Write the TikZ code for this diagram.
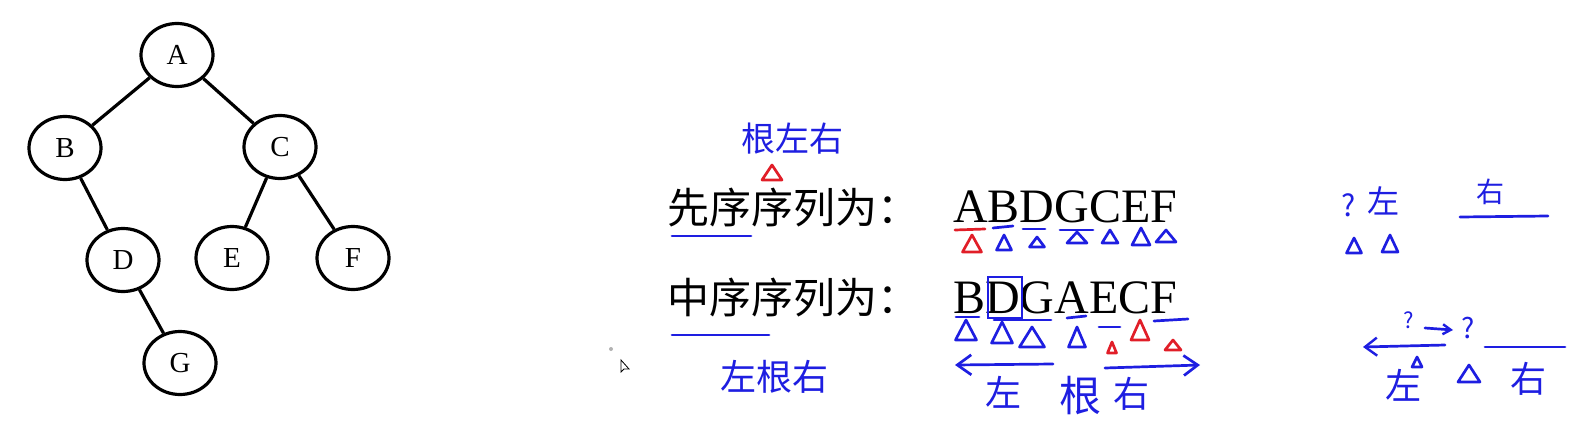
\documentclass[tikz,border=0pt]{standalone}
\usepackage{fontspec}
\setmainfont{Liberation Serif}
\newfontfamily\cjk{Noto Sans CJK SC}
\usepackage{tikz}
\usetikzlibrary{shapes.geometric,arrows.meta}
\definecolor{penblue}{RGB}{30,30,225}
\definecolor{penred}{RGB}{225,30,40}
\newcommand{\fs}[1]{\fontsize{#1}{#1}\selectfont}

\begin{document}
\begin{tikzpicture}[x=1pt, y=-1pt,
    treenode/.style={ellipse, draw, line width=3.2pt, minimum width=72pt,
        minimum height=63pt, inner sep=0pt, font=\fs{29}},
    treeedge/.style={line width=3.2pt},
    seqlabel/.style={anchor=base west, inner sep=0pt, font=\cjk\fs{42}},
    seqletters/.style={anchor=base west, inner sep=0pt, font=\fs{48}},
    hand/.style={inner sep=0pt, text=penblue, font=\cjk\fs{#1}},
    bluepen/.style={penblue, line width=2.7pt, line cap=round, line join=round},
    redpen/.style={penred, line width=2.7pt, line cap=round, line join=round},
    handarrow/.style={bluepen, -{Straight Barb[length=14pt, width=20pt, line width=2.7pt]}}
]
    \useasboundingbox (0,0) rectangle (1588,423);

    % the tree
    \node[treenode] (A) at (177,55) {A};
    \node[treenode] (B) at (65,148) {B};
    \node[treenode] (C) at (280,147) {C};
    \node[treenode] (D) at (123,260) {D};
    \node[treenode] (E) at (232,258) {E};
    \node[treenode] (F) at (353,258) {F};
    \node[treenode] (G) at (180,363) {G};
    \draw[treeedge] (A) -- (B);
    \draw[treeedge] (A) -- (C);
    \draw[treeedge] (B) -- (D);
    \draw[treeedge] (C) -- (E);
    \draw[treeedge] (C) -- (F);
    \draw[treeedge] (D) -- (G);

    % the two sequences
    \node[seqlabel] (pre) at (667,223) {先序序列为：};
    \node[seqletters] (preseq) at (953,222) {ABDGCEF};
    \node[seqlabel] (mid) at (667,313) {中序序列为：};
    \node[seqletters] (midseq) at (953,313) {BDGAECF};

    % handwritten notes
    \node[hand=34] (prerule) at (792,139) {根左右};
    \node[hand=36] (midrule) at (774,377) {左根右};
    \node[hand=36] (lsub) at (1003,392) {左};
    \node[hand=42] (root) at (1080,396) {根};
    \node[hand=36] (rsub) at (1131,394) {右};

    \draw[bluepen] (672,236) -- (751,236);
    \draw[bluepen] (672,335) -- (769,335);
    \draw[penblue, line width=1.3pt] (988,277) rectangle (1022,318);

    % marks under the letters
    \draw[redpen] (955,230) -- (985,229);
    \draw[bluepen] (993,228) -- (1013,226);
    \draw[bluepen] (1023,229) -- (1045,229);
    \draw[bluepen] (1060,230) -- (1093,230);
    \draw[bluepen] (956,317) -- (979,317);
    \draw[bluepen] (994,320) -- (1051,320);
    \draw[bluepen] (1067,318) -- (1086,316);
    \draw[bluepen] (1099,327) -- (1120,327);
    \draw[bluepen] (1154,321) -- (1188,319);

    \foreach \x/\y/\w/\h in {772/180/20/15, 972/252/19/17, 1112/353/9/11,
        1140/340/18/20, 1173/350/16/10}
        \draw[redpen] ({\x-\w/2},\y) -- (\x,{\y-\h}) -- ({\x+\w/2},\y) -- cycle;
    \foreach \x/\y/\w/\h in {1004/250/15/15, 1037/247/15/10, 1077/243/20/11,
        1110/243/16/13, 1141/245/18/17, 1166/242/20/12,
        966/340/21/20, 1002/343/21/21, 1032/347/25/20, 1077/347/17/20,
        1354/253/15/15, 1390/252/16/17, 1417/367/10/10, 1469/382/22/17}
        \draw[bluepen] ({\x-\w/2},\y) -- (\x,{\y-\h}) -- ({\x+\w/2},\y) -- cycle;

    \coordinate (lstart) at (1053,364);
    \coordinate (lend) at (955,365);
    \coordinate (rstart) at (1105,368);
    \coordinate (rend) at (1200,365);
    \draw[handarrow] (lstart) -- (lend);
    \draw[handarrow] (rstart) -- (rend);

    % working on the right
    \node[hand=30] (q1) at (1349,205) {?};
    \node[hand=32] (l1) at (1383,201) {左};
    \node[hand=28] (r1) at (1490,192) {右};
    \draw[bluepen] (1460,217) -- (1548,216);
    \node[hand=22] (q2) at (1409,320) {?};
    \node[hand=28] (q3) at (1468,328) {?};
    \node[hand=36] (l2) at (1403,385) {左};
    \node[hand=36] (r2) at (1528,379) {右};
    \coordinate (qa) at (1425,328);
    \coordinate (qb) at (1453,330);
    \coordinate (la) at (1445,345);
    \coordinate (lb) at (1363,347);
    \draw[bluepen, -{Straight Barb[length=8pt, width=10pt, line width=2.4pt]}] (qa) -- (qb);
    \draw[bluepen, -{Straight Barb[length=12pt, width=18pt, line width=2.4pt]}] (la) -- (lb);
    \draw[bluepen] (1485,347) -- (1565,347);

    % pointer left on the slide
    \fill[gray!60] (611,349) circle (2);
    \draw[line width=0.8pt, fill=white] (621,360) -- (621,372) -- (624,369)
        -- (629,369) -- cycle;
\end{tikzpicture}
\end{document}
